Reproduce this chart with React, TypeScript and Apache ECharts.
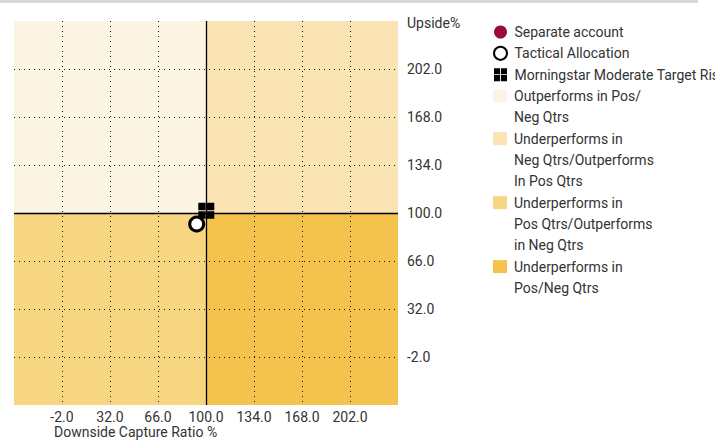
import React, { useEffect, useRef } from 'react';
import * as echarts from 'echarts';

const FONT = 'Roboto, "Liberation Sans", sans-serif';
const TEXT_COLOR = '#333333';
const FS = 14;

// Axis scale (both axes share it)
const AXIS_MIN = -36;
const AXIS_MAX = 236;
const TICK_STEP = 34;
const xTickLabels = ['-2.0', '32.0', '66.0', '100.0', '134.0', '168.0', '202.0'];
const yTickLabels = ['-2.0', '32.0', '66.0', '100.0', '134.0', '168.0', '202.0'];
const xAxisTitle = 'Downside Capture Ratio %';
const yAxisTitle = 'Upside%';

// Quadrant split (benchmark = 100 / 100)
const SPLIT_X = 100;
const SPLIT_Y = 100;

// Series
const pointSeriesNames = ['Separate account', 'Tactical Allocation', 'Morningstar Moderate Target Risk'];
const separateAccount: number[][] = [];
const tacticalAllocation: number[][] = [[93.4, 92.2]];
const benchmark: number[][] = [[100.2, 101.6]];

const quadrantNames = [
  'Outperforms in Pos/\nNeg Qtrs',
  'Underperforms in\nNeg Qtrs/Outperforms\nIn Pos Qtrs',
  'Underperforms in\nPos Qtrs/Outperforms\nin Neg Qtrs',
  'Underperforms in\nPos/Neg Qtrs',
];
const quadrantColors = ['#FDF5E3', '#FAE4B3', '#F7D682', '#F4C34E'];

const LH = 21.33;
const LEGEND_FIRST_ROW = 32;
const BENCH_ICON = 'path://M0,0H13V13H0Z M15,0H28V13H15Z M0,15H13V28H0Z M15,15H28V28H15Z';

function buildOption() {
  const quadrantBoxes = [
    [{ xAxis: AXIS_MIN, yAxis: SPLIT_Y }, { xAxis: SPLIT_X, yAxis: AXIS_MAX }],
    [{ xAxis: SPLIT_X, yAxis: SPLIT_Y }, { xAxis: AXIS_MAX, yAxis: AXIS_MAX }],
    [{ xAxis: AXIS_MIN, yAxis: AXIS_MIN }, { xAxis: SPLIT_X, yAxis: SPLIT_Y }],
    [{ xAxis: SPLIT_X, yAxis: AXIS_MIN }, { xAxis: AXIS_MAX, yAxis: SPLIT_Y }],
  ];

  const quadrantSeries = quadrantNames.map((name, i) => ({
    name,
    type: 'scatter',
    data: [],
    z: 1,
    silent: true,
    itemStyle: { color: quadrantColors[i], opacity: 1 },
    markArea: {
      silent: true,
      z: -1,
      itemStyle: { color: quadrantColors[i], opacity: 1 },
      data: [quadrantBoxes[i]],
    },
  }));

  const splitStyle = { color: '#111', type: [1, 4], width: 1 };
  const fmt = (labels: string[]) => (v: number) => {
    const s = v.toFixed(1);
    return labels.indexOf(s) >= 0 ? s : '';
  };

  const baseText = {
    fontFamily: FONT,
    fontSize: FS,
    color: TEXT_COLOR,
    lineHeight: LH,
    padding: [0, 0, 0, 2],
    rich: { t: { fontFamily: FONT, fontSize: FS, color: TEXT_COLOR } },
  };
  const legendCommon = {
    orient: 'vertical',
    left: 493,
    itemWidth: 14,
    itemHeight: 13,
    itemGap: 0,
    padding: 0,
    selectedMode: false,
  };

  // Legend rows sit on a regular line grid; multi-line entries keep the icon on the first line.
  let row = 3;
  const quadrantLegends = quadrantNames.map((n) => {
    const lines = n.split('\n').length;
    const center = LEGEND_FIRST_ROW + row * LH;
    row += lines;
    return {
      ...legendCommon,
      top: center - ((2 * lines - 1) * LH) / 2,
      data: [{ name: n, icon: 'rect' }],
      textStyle: { ...baseText, padding: [(lines - 1) * LH, 0, 0, 2] },
    };
  });

  return {
    animation: false,
    textStyle: { fontFamily: FONT },
    graphic: [
      { type: 'rect', left: 0, top: 0, silent: true, shape: { width: 698, height: 3 }, style: { fill: '#D9D9D9' } },
    ],
    title: [
      { text: yAxisTitle, left: 407, top: 16, padding: 0, textStyle: { fontFamily: FONT, fontSize: FS, fontWeight: 'normal', color: TEXT_COLOR } },
      { text: xAxisTitle, left: 54, top: 425, padding: 0, textStyle: { fontFamily: FONT, fontSize: FS, fontWeight: 'normal', color: TEXT_COLOR } },
    ],
    grid: { left: 14, top: 21, width: 384, height: 384, containLabel: false },
    legend: [
      {
        ...legendCommon,
        top: LEGEND_FIRST_ROW - LH / 2,
        data: [
          { name: pointSeriesNames[0], icon: 'circle' },
          { name: pointSeriesNames[1], icon: 'circle' },
          { name: pointSeriesNames[2], icon: BENCH_ICON },
        ],
        textStyle: baseText,
      },
      ...quadrantLegends,
    ],
    xAxis: {
      type: 'value',
      min: AXIS_MIN,
      max: AXIS_MAX,
      interval: TICK_STEP,
      position: 'bottom',
      z: 2,
      axisLine: { show: false },
      axisTick: { show: false },
      splitLine: { show: true, showMinLine: false, showMaxLine: false, lineStyle: splitStyle },
      axisLabel: {
        showMinLabel: false, showMaxLabel: false,
        margin: 5, fontFamily: FONT, fontSize: FS, color: TEXT_COLOR,
        formatter: fmt(xTickLabels),
      },
    },
    yAxis: {
      type: 'value',
      min: AXIS_MIN,
      max: AXIS_MAX,
      interval: TICK_STEP,
      position: 'right',
      z: 2,
      axisLine: { show: false },
      axisTick: { show: false },
      splitLine: { show: true, showMinLine: false, showMaxLine: false, lineStyle: splitStyle },
      axisLabel: {
        showMinLabel: false, showMaxLabel: false,
        margin: 9, fontFamily: FONT, fontSize: FS, color: TEXT_COLOR,
        formatter: fmt(yTickLabels),
      },
    },
    series: [
      ...quadrantSeries,
      {
        name: pointSeriesNames[0],
        type: 'scatter',
        z: 5,
        symbol: 'circle',
        symbolSize: 13,
        itemStyle: { color: '#9B0B3B', opacity: 1 },
        data: separateAccount,
        markLine: {
          silent: true,
          z: 4,
          symbol: 'none',
          label: { show: false },
          lineStyle: { color: '#000', type: 'solid', width: 1.3 },
          data: [{ xAxis: SPLIT_X }, { yAxis: SPLIT_Y }],
        },
      },
      {
        name: pointSeriesNames[2],
        type: 'scatter',
        z: 6,
        symbol: BENCH_ICON,
        symbolSize: 16,
        itemStyle: { color: '#000', opacity: 1 },
        data: benchmark,
      },
      {
        name: pointSeriesNames[1],
        type: 'scatter',
        z: 7,
        symbol: 'circle',
        symbolSize: 14,
        itemStyle: { color: '#FFFFFF', borderColor: '#000', borderWidth: 3, opacity: 1 },
        data: tacticalAllocation,
      },
    ],
  };
}

export default function App() {
  const ref = useRef<HTMLDivElement>(null);
  useEffect(() => {
    const chart = echarts.init(ref.current as HTMLDivElement, null, { renderer: 'svg' });
    chart.setOption(buildOption() as any);
    return () => chart.dispose();
  }, []);
  return (
    <div style={{ position: 'fixed', left: 0, top: 0, width: 715, height: 440, background: '#fff' }}>
      <div ref={ref} style={{ width: 715, height: 440 }} />
    </div>
  );
}
